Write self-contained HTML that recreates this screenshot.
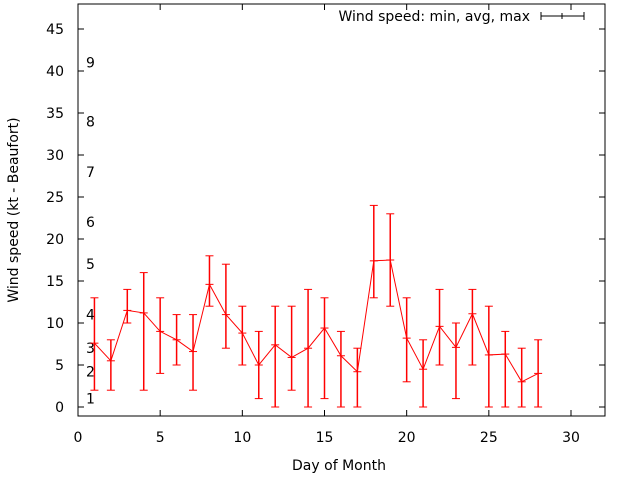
<!DOCTYPE html>
<html><head><meta charset="utf-8"><style>body{margin:0;background:#fff}svg{display:block;font-family:"DejaVu Sans","Liberation Sans",sans-serif}</style></head>
<body>
<svg id="c" width="640" height="480"></svg>
<script>
const days=[1,2,3,4,5,6,7,8,9,10,11,12,13,14,15,16,17,18,19,20,21,22,23,24,25,26,27,28];
const avgs=[7.6,5.5,11.5,11.2,9,8,6.6,14.6,11,8.8,5,7.4,5.9,7,9.4,6.1,4.2,17.4,17.5,8.2,4.5,9.6,7.1,11.1,6.2,6.3,3,4];
const mins=[2,2,10,2,4,5,2,12,7,5,1,0,2,0,1,0,0,13,12,3,0,5,1,5,0,0,0,0];
const maxs=[13,8,14,16,13,11,11,18,17,12,9,12,12,14,13,9,7,24,23,13,8,14,10,14,12,9,7,8];
const xTicks=[0,5,10,15,20,25,30];
const yTicks=[0,5,10,15,20,25,30,35,40,45];
const bft=[[1,1],[2,4.2],[3,7],[4,11],[5,17],[6,22],[7,28],[8,34],[9,41]];
const L=78,R=605,T=4,B=416;
const X=v=>L+v*(571-78)/30;
const Y=v=>407-v*(407-29)/45;
const s=document.getElementById('c');const ns='http://www.w3.org/2000/svg';
function mk(t,a,p){const e=document.createElementNS(ns,t);for(const k in a)e.setAttribute(k,a[k]);(p||s).appendChild(e);return e;}
let e=mk('rect',{x:L,y:T,width:R-L,height:B-T,fill:'none',stroke:'#000'});


xTicks.forEach(v=>{mk('line',{x1:X(v),x2:X(v),y1:B,y2:B-6,stroke:'#000'});mk('line',{x1:X(v),x2:X(v),y1:T,y2:T+6,stroke:'#000'});
e=mk('text',{x:X(v),y:442,'font-size':14,'text-anchor':'middle',fill:'#000'});e.textContent=v;

});
yTicks.forEach(v=>{mk('line',{x1:L,x2:L+6,y1:Y(v),y2:Y(v),stroke:'#000'});mk('line',{x1:R,x2:R-6,y1:Y(v),y2:Y(v),stroke:'#000'});
e=mk('text',{x:64,y:Y(v)+5,'font-size':14,'text-anchor':'end',fill:'#000'});e.textContent=v;

});
bft.forEach(b=>{e=mk('text',{x:86,y:Y(b[1])+5,'font-size':14,fill:'#000'});e.textContent=b[0];

});
e=mk('text',{x:339,y:470,'font-size':14,'text-anchor':'middle'});e.textContent='Day of Month';


e=mk('text',{x:0,y:0,'font-size':14,'text-anchor':'middle',transform:'translate(18,210) rotate(-90)'});e.textContent='Wind speed (kt - Beaufort)';


e=mk('text',{x:530,y:21,'font-size':14,'text-anchor':'end'});e.textContent='Wind speed: min, avg, max';


const g=mk('g',{stroke:'#000','stroke-width':1,fill:'none'});


mk('line',{x1:541,x2:584,y1:16,y2:16},g);mk('line',{x1:541,x2:541,y1:12,y2:20},g);mk('line',{x1:584,x2:584,y1:12,y2:20},g);mk('line',{x1:562,x2:562,y1:13,y2:19},g);
const sg=mk('g',{stroke:'#f00',fill:'none'});


e=mk('polyline',{points:days.map((d,i)=>X(d)+','+Y(avgs[i])).join(' ')},sg);


days.forEach((d,i)=>{const x=X(d);const b=mk('g',{},sg);


mk('line',{x1:x,x2:x,y1:Y(mins[i]),y2:Y(maxs[i]),'stroke-width':1.5},b);
[mins[i],maxs[i]].forEach(v=>mk('line',{x1:x-4,x2:x+4,y1:Y(v),y2:Y(v)},b));
mk('line',{x1:x-4,x2:x+4,y1:Y(avgs[i]),y2:Y(avgs[i])},b);});
</script>
</body></html>
